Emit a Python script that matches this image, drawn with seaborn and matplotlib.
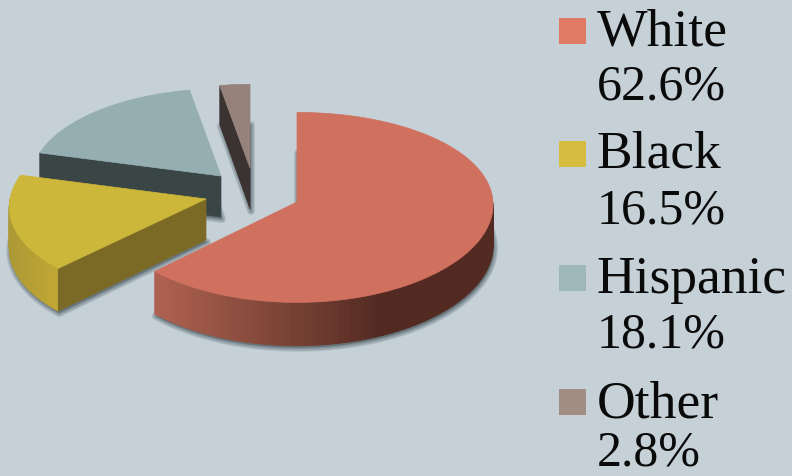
import numpy as np
import matplotlib.pyplot as plt
from matplotlib.colors import to_rgb
from matplotlib.patches import Polygon, Rectangle
import seaborn as sns

categories = ['White', 'Black', 'Hispanic', 'Other']
shares = [62.6, 16.5, 18.1, 2.8]

sns.set_theme(style='white', rc={'font.family': ['Liberation Serif', 'DejaVu Serif']})
bg = '#c5d0d7'
top_colors = sns.color_palette(['#d0705e', '#cdb73b', '#95aeb1', '#96827b'])
legend_colors = sns.color_palette(['#e07a64', '#d5bd40', '#9eb8ba', '#a08d84'])
cut_colors = ['#6b3a2e', '#7b6a25', '#3a4646', '#3b3331']
# gradient of the outer wall, left to right
wall_stops = {
    'White': ([155, 300, 380, 493], ['#b06250', '#744033', '#532a22', '#532a22']),
    'Black': ([12, 60], ['#ad9a35', '#c4a935']),
    'Hispanic': ([39, 193], ['#3a4646', '#3a4646']),
    'Other': ([221, 250], ['#3b3331', '#3b3331']),
}
# apex of each exploded slice, in pixels
apex = {'White': (297, 202), 'Black': (206, 199), 'Hispanic': (221, 176), 'Other': (250, 168)}
scale = {'White': 1.0, 'Black': 1.0, 'Hispanic': 0.97, 'Other': 0.93}
persp_x = {'White': 0.0003, 'Black': 0.0009, 'Hispanic': 0.0006, 'Other': 0.0006}

RX, RY, DEPTH, PERSP = 196, 95, 41, 0.0006


def project(cx, cy, deg, s, px):
    a = np.radians(deg)
    dy = -RY * s * np.cos(a)
    k = 1 + PERSP * dy
    return cx + RX * s * np.sin(a) * (1 + px * dy), cy + dy * k, DEPTH * k


fig = plt.figure(figsize=(7.92, 4.76), dpi=100, facecolor=bg)
ax = fig.add_axes([0, 0, 1, 1])
ax.set_xlim(0, 792)
ax.set_ylim(476, 0)
ax.axis('off')

ends = np.cumsum(shares) / np.sum(shares) * 360
starts = np.r_[0, ends[:-1]]

# back slices first
for i in [3, 2, 1, 0]:
    name = categories[i]
    cx, cy = apex[name]
    degs = np.linspace(starts[i], ends[i], 120)
    xs, ys, ds = project(cx, cy, degs, scale[name], persp_x[name])
    top = np.c_[np.r_[cx, xs], np.r_[cy, ys]]
    bottom = np.c_[np.r_[cx, xs], np.r_[cy + DEPTH, ys + ds]]

    # soft shadow under the slice
    for w in [8, 6, 4, 2]:
        ax.add_patch(Polygon(bottom + [1, 2], closed=True, fc='#47565c', ec='#47565c',
                             lw=w * 0.72, alpha=0.16, joinstyle='round'))

    # outer wall, thin strips so the gradient works
    px, cols = wall_stops[name]
    rgb = np.array([to_rgb(c) for c in cols])
    for j in range(len(degs) - 1):
        if not 90 <= degs[j] <= 270:
            continue
        mid = (xs[j] + xs[j + 1]) / 2
        col = [np.interp(mid, px, rgb[:, n]) for n in range(3)]
        quad = [(xs[j], ys[j]), (xs[j + 1], ys[j + 1]),
                (xs[j + 1], ys[j + 1] + ds[j + 1]), (xs[j], ys[j] + ds[j])]
        ax.add_patch(Polygon(quad, closed=True, fc=col, ec=col, lw=0.6))

    # straight side that faces the viewer (white has none)
    if name != 'White':
        ax.add_patch(Polygon([(cx, cy), (xs[0], ys[0]), (xs[0], ys[0] + ds[0]), (cx, cy + DEPTH)],
                             closed=True, fc=cut_colors[i], ec=cut_colors[i], lw=0.5))

    ax.add_patch(Polygon(top, closed=True, fc=top_colors[i], ec=top_colors[i], lw=0.5))

# legend
square_y = [18, 141, 265, 389]
name_base = [45, 168, 293, 417]
share_base = [100, 223, 348, 465]
for i, name in enumerate(categories):
    ax.add_patch(Rectangle((559, square_y[i]), 27, 26, fc=legend_colors[i], ec='none'))
    ax.text(597, name_base[i], name, fontsize=38.5, color='#0a0a0a', va='baseline', ha='left')
    ax.text(597, share_base[i], f'{shares[i]}%', fontsize=36, color='#0a0a0a', va='baseline', ha='left')

fig.savefig('out.png', dpi=100, facecolor=bg)
